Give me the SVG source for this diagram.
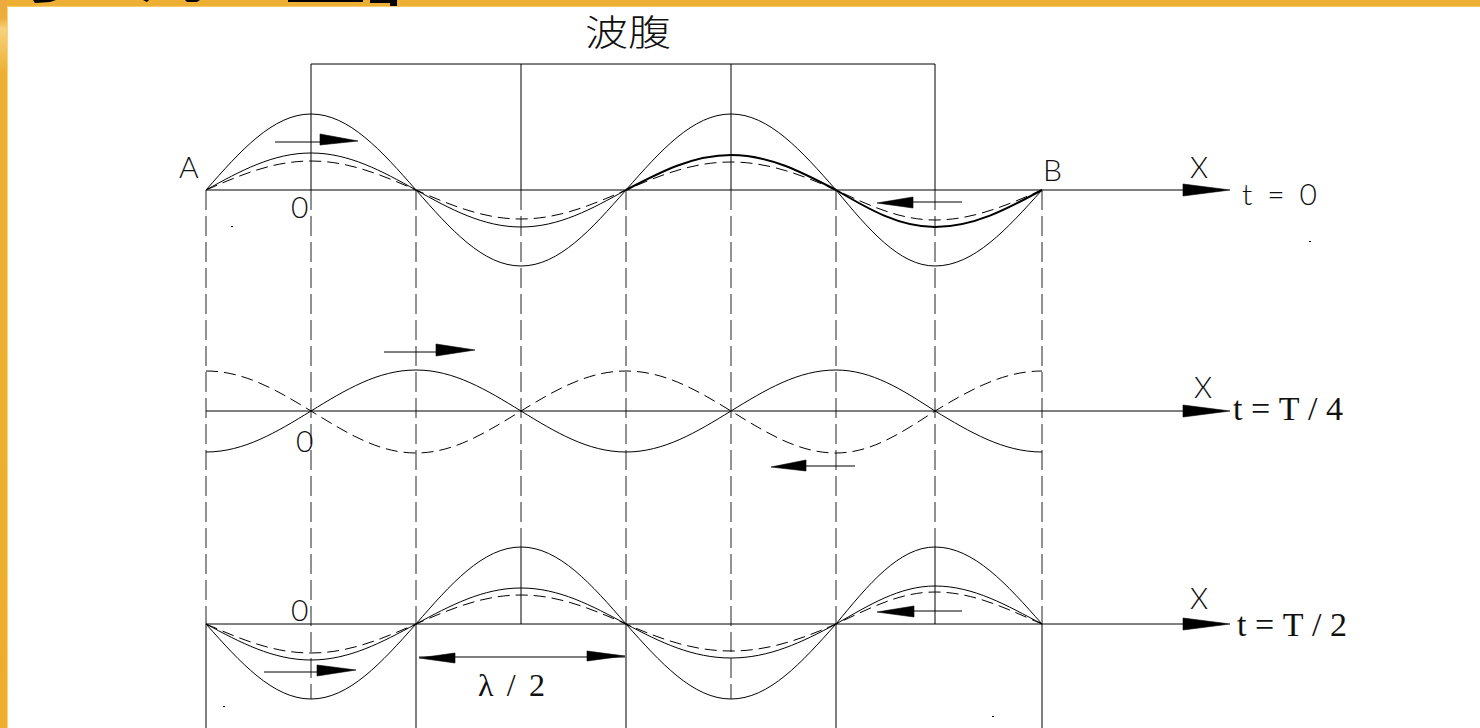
<svg xmlns="http://www.w3.org/2000/svg" width="1480" height="728" viewBox="0 0 1480 728">
<defs>
<linearGradient id="lstrip" x1="0" y1="0" x2="0" y2="1">
<stop offset="0" stop-color="#EBA840"/>
<stop offset="0.025" stop-color="#EDAE3A"/>
<stop offset="0.04" stop-color="#F6D27E"/>
<stop offset="0.1" stop-color="#EDAF33"/>
<stop offset="0.6" stop-color="#EDAF30"/>
<stop offset="1" stop-color="#EDAE2E"/>
</linearGradient>
</defs>
<style>
.ln{stroke:#000;stroke-width:1;fill:none}
.dv{stroke:#222;stroke-width:1;fill:none;stroke-dasharray:20 6}
.cv{stroke:#000;stroke-width:1;fill:none}
.cb{stroke:#000;stroke-width:2;fill:none}
.cd{stroke:#000;stroke-width:1;fill:none;stroke-dasharray:12 6}
.hd{fill:#000;stroke:#000;stroke-width:0.6}
.lbl{font-family:Lato,'Liberation Sans',sans-serif;font-weight:300;fill:#111}
.tm{font-family:'Liberation Serif',serif;fill:#111}
.cjk{font-family:'Noto Sans CJK SC',sans-serif;font-weight:300;fill:#111}
</style>
<rect width="1480" height="728" fill="#fff"/>
<g id="frame">
<rect x="0" y="0" width="1480" height="6" fill="#EEAF35"/>
<rect x="0" y="6" width="1480" height="1" fill="#F8CB66"/>
<rect x="0" y="0" width="7" height="728" fill="url(#lstrip)"/>
<rect x="7" y="6" width="1" height="722" fill="#F9D67C"/>
<polygon points="33,0 56,0 50,2 35,3" fill="#000"/>
<polygon points="143,0 149,0 147,2" fill="#000"/>
<polygon points="185,0 200,0 197,2 187,2" fill="#000"/>
<rect x="288" y="0" width="75" height="2" fill="#000"/>
<polygon points="370,0 397,0 397,6 390,6 390,3 370,3" fill="#000"/>
</g>
<g id="box">
<line class="ln" x1="311" y1="64" x2="935" y2="64"/>
<line class="ln" x1="311" y1="64" x2="311" y2="190"/>
<line class="ln" x1="521" y1="64" x2="521" y2="190"/>
<line class="ln" x1="731" y1="64" x2="731" y2="190"/>
<line class="ln" x1="935" y1="64" x2="935" y2="190"/>
<line class="ln" x1="521" y1="547" x2="521" y2="624"/>
<line class="ln" x1="935" y1="547" x2="935" y2="624"/>
<line class="ln" x1="206" y1="624" x2="206" y2="728"/>
<line class="ln" x1="416" y1="624" x2="416" y2="728"/>
<line class="ln" x1="626" y1="624" x2="626" y2="728"/>
<line class="ln" x1="836" y1="624" x2="836" y2="728"/>
<line class="ln" x1="1042" y1="624" x2="1042" y2="728"/>
</g>
<g id="guides">
<line class="dv" x1="206" y1="190" x2="206" y2="624"/>
<line class="dv" x1="416" y1="190" x2="416" y2="624"/>
<line class="dv" x1="626" y1="190" x2="626" y2="624"/>
<line class="dv" x1="836" y1="190" x2="836" y2="624"/>
<line class="dv" x1="1042" y1="190" x2="1042" y2="624"/>
<line class="dv" x1="311" y1="190" x2="311" y2="699"/>
<line class="dv" x1="731" y1="190" x2="731" y2="699"/>
<line class="dv" x1="521" y1="190" x2="521" y2="547"/>
<line class="dv" x1="935" y1="190" x2="935" y2="547"/>
</g>
<g id="axes">
<line class="ln" x1="206" y1="190" x2="1185" y2="190"/>
<polygon class="hd" points="1183,184 1230,190 1183,196"/>
<line class="ln" x1="206" y1="411" x2="1185" y2="411"/>
<polygon class="hd" points="1183,405 1230,411 1183,417"/>
<line class="ln" x1="206" y1="624" x2="1185" y2="624"/>
<polygon class="hd" points="1183,618 1230,624 1183,630"/>
</g>
<g id="wave-t0">
<path class="cv" d="M206,190 C240.25,151.1 273,114 311,114 C349,114 381.75,151.1 416,190 C450.25,228.9 483,266 521,266 C559,266 591.75,228.9 626,190 C660.25,151.1 693,114 731,114 C769,114 801.75,151.1 836,190 C868.3,228.9 899.2,266 935,266 C973.7,266 1007.1,228.9 1042,190"/>
<path class="cv" d="M206,190 C240.25,171 273,153 311,153 C349,153 381.75,171 416,190 C450.25,209 483,227 521,227 C559,227 591.75,209 626,190"/>
<path class="cb" d="M626,190 C660.25,172 693,155 731,155 C769,155 801.75,172 836,190 C868.3,209 899.2,227 935,227 C973.7,227 1007.1,209 1042,190"/>
<path class="cd" d="M206,190 C240.25,175.1 273,161 311,161 C349,161 381.75,175.1 416,190 C450.25,204.9 483,219 521,219 C559,219 591.75,204.9 626,190 C660.25,175.1 693,162 731,162 C769,162 801.75,175.1 836,190 C868.3,204.9 899.2,220 935,220 C973.7,220 1007.1,204.9 1042,190"/>
</g>
<g id="wave-t4">
<path class="cv" d="M206,452 C244,452 276.75,432 311,411 C345.25,390 378,370 416,370 C454,370 486.75,390 521,411 C555.25,432 588,452 626,452 C664,452 696.75,432 731,411 C765.25,390 798,370 836,370 C871.8,370 902.7,390 935,411 C969.9,432 1003.3,452 1042,452"/>
<path class="cd" d="M206,371 C244,371 276.75,390 311,411 C345.25,432 378,453 416,453 C454,453 486.75,432 521,411 C555.25,390 588,371 626,371 C664,371 696.75,390 731,411 C765.25,432 798,453 836,453 C871.8,453 902.7,432 935,411 C969.9,390 1003.3,371 1042,371"/>
</g>
<g id="wave-t2">
<path class="cv" d="M206,624 C240.25,662.4 273,699 311,699 C349,699 381.75,662.4 416,624 C450.25,584.6 483,547 521,547 C559,547 591.75,584.6 626,624 C660.25,662.4 693,699 731,699 C769,699 801.75,662.4 836,624 C868.3,584.6 899.2,547 935,547 C973.7,547 1007.1,584.6 1042,624"/>
<path class="cv" d="M206,624 C240.25,642.4 273,660 311,660 C349,660 381.75,642.4 416,624 C450.25,605.6 483,588 521,588 C559,588 591.75,605.6 626,624 C660.25,642.4 693,658 731,658 C769,658 801.75,642.4 836,624 C868.3,605.6 899.2,586 935,586 C973.7,586 1007.1,605.6 1042,624"/>
<path class="cd" d="M206,624 C240.25,638.9 273,653 311,653 C349,653 381.75,638.9 416,624 C450.25,609.1 483,595 521,595 C559,595 591.75,609.1 626,624 C660.25,638.9 693,651 731,651 C769,651 801.75,638.9 836,624 C868.3,609.1 899.2,592 935,592 C973.7,592 1007.1,609.1 1042,624"/>
</g>
<g id="arrows">
<line class="ln" x1="275" y1="142" x2="322" y2="142"/>
<polygon class="hd" points="320,134 358,141 320,145"/>
<line class="ln" x1="913" y1="202" x2="962" y2="202"/>
<polygon class="hd" points="913,197 877,203 913,208"/>
<line class="ln" x1="384" y1="352" x2="438" y2="352"/>
<polygon class="hd" points="436,344 475,350 436,356"/>
<line class="ln" x1="806" y1="466" x2="855" y2="466"/>
<polygon class="hd" points="806,460 771,467 806,471"/>
<line class="ln" x1="264" y1="672" x2="319" y2="672"/>
<polygon class="hd" points="317,665 356,670 317,676"/>
<line class="ln" x1="914" y1="611" x2="962" y2="611"/>
<polygon class="hd" points="914,606 877,612 914,617"/>
<line class="ln" x1="419" y1="657" x2="625" y2="657"/>
<polygon class="hd" points="455,653 419,658 455,663"/>
<polygon class="hd" points="587,651 625,656 587,661"/>
</g>
<g id="labels">
<text class="cjk" x="585" y="46" font-size="36" textLength="86" lengthAdjust="spacingAndGlyphs">波腹</text>
<text class="lbl" x="179" y="178" font-size="30">A</text>
<text class="lbl" x="1043" y="181" font-size="30">B</text>
<text class="lbl" x="291" y="218" font-size="30">0</text>
<text class="lbl" x="296" y="452" font-size="30">0</text>
<text class="lbl" x="291" y="621" font-size="30">0</text>
<text class="lbl" x="1190" y="178" font-size="29">X</text>
<text class="lbl" x="1194" y="398" font-size="29">X</text>
<text class="lbl" x="1190" y="609" font-size="29">X</text>
<text class="lbl" x="1242" y="205" font-size="30" textLength="75" lengthAdjust="spacing">t=0</text>
<text class="tm" x="1233" y="420" font-size="34" textLength="110" lengthAdjust="spacing">t=T/4</text>
<text class="tm" x="1237" y="636" font-size="34" textLength="110" lengthAdjust="spacing">t=T/2</text>
<text class="tm" x="478" y="696" font-size="32" textLength="67" lengthAdjust="spacing">λ/2</text>
</g>
<g id="specks" fill="#000">
<rect x="231" y="226" width="2" height="1"/>
<rect x="1309" y="241" width="2" height="1"/>
<rect x="223" y="706" width="2" height="1"/>
<rect x="992" y="716" width="2" height="1"/>
</g>
</svg>
